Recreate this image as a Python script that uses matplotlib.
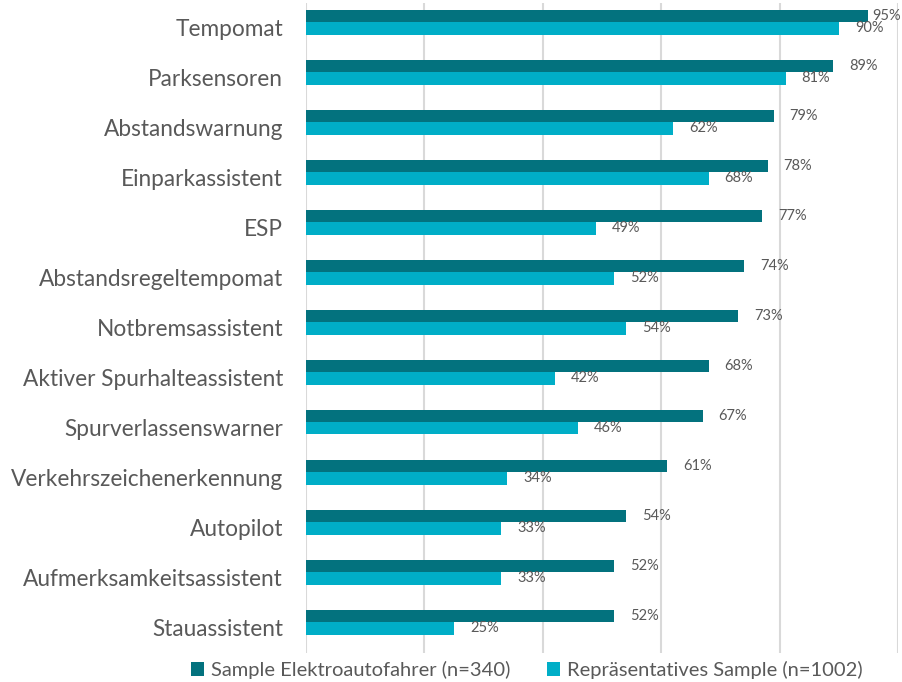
import numpy as np
import matplotlib.pyplot as plt

plt.rcParams['font.family'] = ['Lato', 'DejaVu Sans']

# --- data ---
categories = ['Tempomat', 'Parksensoren', 'Abstandswarnung', 'Einparkassistent', 'ESP',
              'Abstandsregeltempomat', 'Notbremsassistent', 'Aktiver Spurhalteassistent',
              'Spurverlassenswarner', 'Verkehrszeichenerkennung', 'Autopilot',
              'Aufmerksamkeitsassistent', 'Stauassistent']
elektro = [95, 89, 79, 78, 77, 74, 73, 68, 67, 61, 54, 52, 52]
repraesentativ = [90, 81, 62, 68, 49, 52, 54, 42, 46, 34, 33, 33, 25]
series_names = ['Sample Elektroautofahrer (n=340)', 'Repräsentatives Sample (n=1002)']

DARK = '#03727E'
CYAN = '#00AEC7'
LABEL_COL = '#595959'

fig = plt.figure(figsize=(9.02, 6.82), dpi=100)
ax = fig.add_axes([306 / 902, 29 / 682, 592 / 902, 650 / 682])

y = np.arange(len(categories))
h = 0.25
shift = -0.12  # bar group sits a little above the category label
b1 = ax.barh(y + shift - h / 2, elektro, height=h, color=DARK, label=series_names[0], zorder=3)
b2 = ax.barh(y + shift + h / 2, repraesentativ, height=h, color=CYAN, label=series_names[1], zorder=3)

# value labels
for bars, vals in ((b1, elektro), (b2, repraesentativ)):
    for bar, v in zip(bars, vals):
        off = 3 if v >= 94 else 11.5
        ax.annotate(f'{v}%', (bar.get_width(), bar.get_y() + bar.get_height() / 2),
                    xytext=(off, 0), textcoords='offset points', ha='left', va='center',
                    fontsize=10.5, color=LABEL_COL, annotation_clip=False)

ax.set_xlim(0, 100)
ax.set_ylim(len(categories) - 0.5, -0.5)
ax.set_xticks(np.arange(0, 101, 20))
ax.set_xticklabels([])
ax.set_yticks(y)
ax.set_yticklabels(categories, fontsize=16.3, color=LABEL_COL)
ax.tick_params(axis='both', length=0)
ax.tick_params(axis='y', pad=16.5)
ax.grid(axis='x', color='#D9D9D9', linewidth=1.5, zorder=0)
for s in ax.spines.values():
    s.set_visible(False)

fig.legend(loc='center left', bbox_to_anchor=(191 / 902, 1 - 670 / 682), ncol=2,
           frameon=False, fontsize=14.5, labelcolor=LABEL_COL, handlelength=0.65,
           handleheight=0.65, handletextpad=0.35, columnspacing=1.8, borderaxespad=0,
           borderpad=0)

fig.savefig('out.png', dpi=100)
